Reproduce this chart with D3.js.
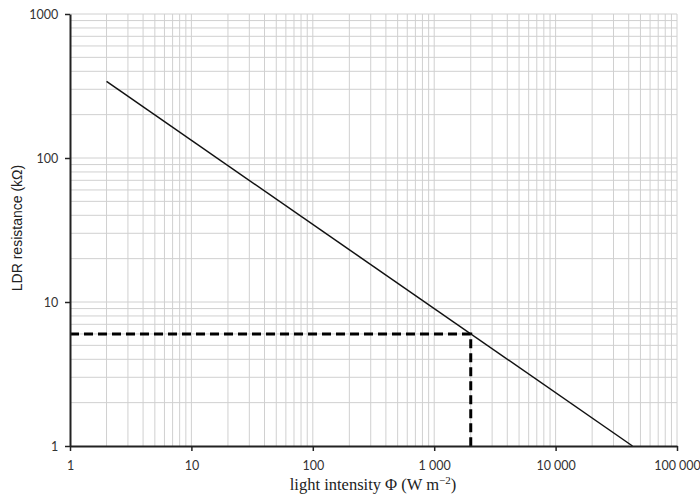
<!DOCTYPE html>
<html><head><meta charset="utf-8">
<script src="https://cdn.jsdelivr.net/npm/d3@7"></script>
<style>body{margin:0;background:#fff}</style>
</head><body><svg id="c" width="700" height="498"></svg>
<script>
const xTicks = [1, 10, 100, 1000, 10000, 100000];
const xTickLabels = ["1", "10", "100", "1 000", "10 000", "100 000"];
const yTicks = [1, 10, 100, 1000];
const yTickLabels = ["1", "10", "100", "1000"];
const curveX = [2, 43000];
const curveY = [340, 1];
const readX = [2000];
const readY = [6];

const svg = d3.select("#c");
const m = {l:70, r:677, t:14, b:446};
const x = d3.scaleLog().domain([1,100000]).range([m.l, m.r]);
const y = d3.scaleLog().domain([1,1000]).range([m.b, m.t]);

const minorX = [], minorY = [];
for (let d=1; d<100000; d*=10) for (let k=2;k<=10;k++) minorX.push(d*k);
for (let d=1; d<1000; d*=10) for (let k=2;k<=10;k++) minorY.push(d*k);

const g = svg.append("g");
g.selectAll(".gx").data(minorX).join("line")
  .attr("x1", d=>x(d)).attr("x2", d=>x(d)).attr("y1", m.t).attr("y2", m.b)
  .attr("stroke", "#d0d0d0").attr("stroke-width", 1);
g.selectAll(".gy").data(minorY).join("line")
  .attr("y1", d=>y(d)).attr("y2", d=>y(d)).attr("x1", m.l).attr("x2", m.r)
  .attr("stroke", "#d0d0d0").attr("stroke-width", 1);

const pts = curveX.map((v,i)=>[v, curveY[i]]);
svg.append("path").attr("d", d3.line().x(d=>x(d[0])).y(d=>y(d[1]))(pts))
  .attr("fill","none").attr("stroke","#111").attr("stroke-width",1.5);

svg.append("path")
  .attr("d", `M${x(1)},${y(readY[0])}H${x(readX[0])}V${y(1)}`)
  .attr("fill","none").attr("stroke","#000").attr("stroke-width",3)
  .attr("stroke-dasharray","9,5");

const xAxis = d3.axisBottom(x).tickValues(xTicks).tickFormat((d,i)=>xTickLabels[i]).tickSize(5).tickSizeOuter(0);
const yAxis = d3.axisLeft(y).tickValues(yTicks).tickFormat((d,i)=>yTickLabels[i]).tickSize(5).tickSizeOuter(0);
const gx = svg.append("g").attr("transform", `translate(0,${m.b})`).call(xAxis);
const gy = svg.append("g").attr("transform", `translate(${m.l},0)`).call(yAxis);
[gx, gy].forEach(a=>{
  a.select(".domain").attr("stroke","#222").attr("stroke-width",2);
  a.selectAll(".tick line").attr("stroke","#222").attr("stroke-width",1.5);
  a.selectAll(".tick text").attr("font-family","Lato, 'Open Sans', sans-serif").attr("font-size",12.5).attr("fill","#333");
});
gx.selectAll(".tick text").attr("dy","1.25em");
gy.selectAll(".tick text").attr("dx","-0.3em");

svg.append("text").attr("x", 373).attr("y", 490).attr("text-anchor","middle")
  .attr("font-family","'Liberation Serif', serif").attr("font-size",16.5).attr("fill","#222")
  .html('light intensity Φ (W m<tspan dy="-6" font-size="11">−2</tspan><tspan dy="6">)</tspan>');
svg.append("text").attr("transform","translate(22,228) rotate(-90)").attr("text-anchor","middle")
  .attr("font-family","'Liberation Sans', Arial, sans-serif").attr("font-size",14).attr("fill","#222")
  .text("LDR resistance (kΩ)");
</script></body></html>
